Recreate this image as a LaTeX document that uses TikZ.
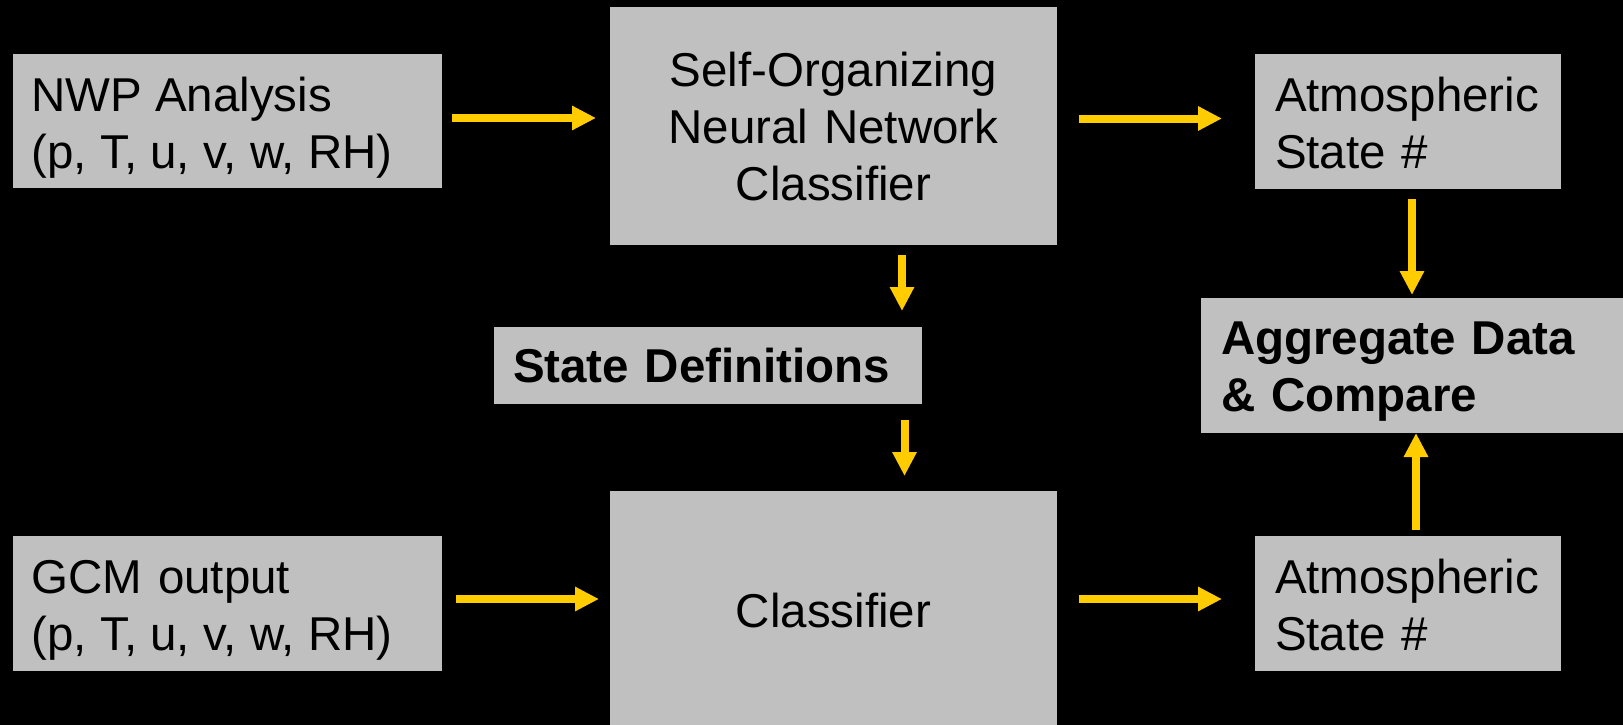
\documentclass[tikz,border=0pt]{standalone}
\usepackage{fontspec}
\setmainfont{Liberation Sans}
\usetikzlibrary{arrows.meta}
\definecolor{boxgray}{RGB}{192,192,192}
\definecolor{arrowyellow}{RGB}{255,204,0}
\tikzset{
  box/.style={rectangle, fill=boxgray, inner sep=0pt, outer sep=0pt},
  txt/.style={inner sep=0pt, outer sep=0pt, text=black, font=\fontsize{47.5}{57}\selectfont},
  btxt/.style={txt, font=\fontsize{47.5}{57}\selectfont\bfseries},
  arr/.style={draw=arrowyellow, line width=8pt, -{Triangle[width=23pt,length=24pt]}}
}
\newcommand{\vars}{{\spaceskip=13.3pt\relax (p, T, u, v, w, RH)}}
\begin{document}
\begin{tikzpicture}[x=1pt,y=-1pt]
\useasboundingbox (0,0) rectangle (1623,725);
\clip (0,0) rectangle (1623,725);
\fill[black] (0,0) rectangle (1623,725);

% boxes
\node[box, minimum width=429pt, minimum height=134pt] (nwp) at (227.5,121) {};
\node[box, minimum width=447pt, minimum height=238pt] (sonn) at (833.5,126) {};
\node[box, minimum width=306pt, minimum height=135pt] (atmtop) at (1408,121.5) {};
\node[box, minimum width=428pt, minimum height=77pt] (statedef) at (708,365.5) {};
\node[box, minimum width=460pt, minimum height=135pt] (agg) at (1431,365.5) {};
\node[box, minimum width=429pt, minimum height=135pt] (gcm) at (227.5,603.5) {};
\node[box, minimum width=447pt, minimum height=280pt] (cls) at (833.5,631) {};
\node[box, minimum width=306pt, minimum height=135pt] (atmbot) at (1408,603.5) {};

% texts
\node[txt, text width=400pt, align=left, anchor=base west] (nwpt) at (31.5,111) {NWP\kern-3pt{} Analysis\\\vars};
\node[txt, text width=440pt, align=center, anchor=base] (sonnt) at (833.5,87) {Self-Organizing\\Neural Network\\Classifier};
\node[txt, text width=290pt, align=left, anchor=base west] (atmtopt) at (1275,111) {Atmospheric\\State \#};
\node[btxt, text width=400pt, align=left, anchor=base west] (statedeft) at (513,382) {State Definitions};
\node[btxt, text width=400pt, align=left, anchor=base west] (aggt) at (1221,354) {Aggregate Data\\\& Compare};
\node[txt, text width=400pt, align=left, anchor=base west] (gcmt) at (31.5,593) {GCM output\\\vars};
\node[txt, text width=440pt, align=center, anchor=base] (clst) at (833.5,627) {Classifier};
\node[txt, text width=290pt, align=left, anchor=base west] (atmbott) at (1275,593) {Atmospheric\\State \#};

% connectors
\draw[arr, shorten <=10pt, shorten >=14pt] ([yshift=3pt]nwp.east) -- ([yshift=3pt]nwp.east -| sonn.west);
\draw[arr, shorten <=22pt, shorten >=33pt] ([yshift=3pt]atmtop.west -| sonn.east) -- ([yshift=3pt]atmtop.west);
\draw[arr, shorten <=10pt, shorten >=16pt] ([xshift=68.5pt]sonn.south) -- ([xshift=68.5pt]sonn.south |- statedef.north);
\draw[arr, shorten <=16pt, shorten >=15pt] ([xshift=71pt]sonn.south |- statedef.south) -- ([xshift=71pt]cls.north);
\draw[arr, shorten <=10pt, shorten >=3pt] ([xshift=4pt]atmtop.south) -- ([xshift=4pt]atmtop.south |- agg.north);
\draw[arr, shorten <=6pt, shorten >=0pt] ([xshift=8pt]atmbot.north) -- ([xshift=8pt]atmbot.north |- agg.south);
\draw[arr, shorten <=14pt, shorten >=11pt] ([yshift=4.5pt]gcm.east) -- ([yshift=4.5pt]gcm.east -| cls.west);
\draw[arr, shorten <=22pt, shorten >=33pt] ([yshift=4.5pt]atmbot.west -| cls.east) -- ([yshift=4.5pt]atmbot.west);
\end{tikzpicture}
\end{document}
